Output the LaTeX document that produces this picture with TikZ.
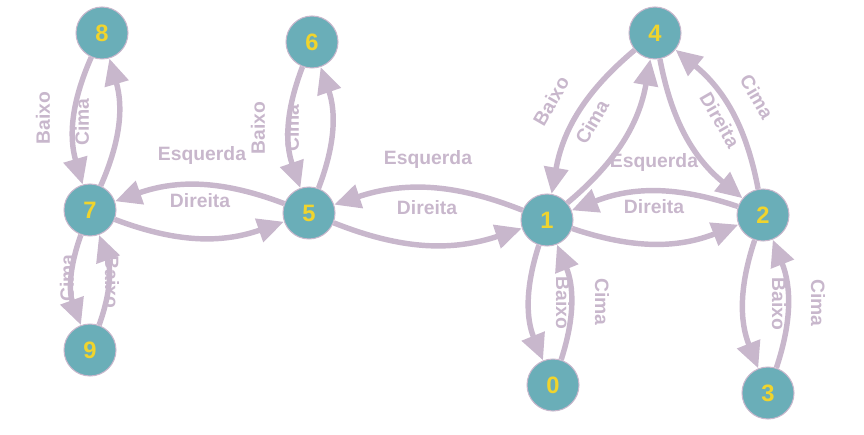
\documentclass[tikz,border=0pt]{standalone}
\usepackage{fontspec}
\setmainfont{Liberation Sans}
\usetikzlibrary{arrows.meta}
\definecolor{edgecol}{RGB}{200,183,204}
\definecolor{statecol}{RGB}{106,174,184}
\definecolor{numcol}{RGB}{240,212,45}
\begin{document}
\begin{tikzpicture}[x=0.02cm, y=-0.02cm,
    state/.style={circle, fill=statecol, draw=edgecol, line width=0.6pt, minimum size=1.04cm, inner sep=0pt, text=numcol, font=\fontsize{13.5}{14}\selectfont\bfseries},
    move/.style={edgecol, line width=3.1pt, -{Triangle[length=15pt, width=13.5pt]}, bend right=20},
    lbl/.style={text=edgecol, font=\fontsize{11}{12}\selectfont\bfseries, inner sep=0pt}]
    \useasboundingbox (0,0) rectangle (864,435);

    % States
    \node[state] (n8) at (102,33) {8};
    \node[state] (n7) at (90,210) {7};
    \node[state] (n9) at (90,350) {9};
    \node[state] (n6) at (312,42) {6};
    \node[state] (n5) at (309,213) {5};
    \node[state] (n1) at (547,220) {1};
    \node[state] (n4) at (655,33) {4};
    \node[state] (n2) at (763,215) {2};
    \node[state] (n0) at (553,385) {0};
    \node[state] (n3) at (768,393) {3};

    % Labels
    \node[lbl, rotate=90] (l87) at (43,118) {Baixo};
    \node[lbl, rotate=90] (l78) at (82,122) {Cima};
    \node[lbl, rotate=90] (l79) at (67,278) {Cima};
    \node[lbl, rotate=-90] (l97) at (112,282) {Baixo};
    \node[lbl, rotate=90] (l65) at (258,128) {Baixo};
    \node[lbl, rotate=90] (l56) at (292,128) {Cima};
    \node[lbl] (l57) at (202,156) {Esquerda};
    \node[lbl] (l75) at (200,201) {Direita};
    \node[lbl] (l15) at (428,160) {Esquerda};
    \node[lbl] (l51) at (427,208) {Direita};
    \node[lbl, rotate=-90] (l10) at (563,303) {Baixo};
    \node[lbl, rotate=-90] (l01) at (602,302) {Cima};
    \node[lbl, rotate=-90] (l23) at (779,304) {Baixo};
    \node[lbl, rotate=-90] (l32) at (818,303) {Cima};
    \node[lbl, rotate=60] (l41) at (551,101) {Baixo};
    \node[lbl, rotate=60] (l14) at (592,122) {Cima};
    \node[lbl, rotate=-60] (l42) at (720,120) {Direita};
    \node[lbl, rotate=-60] (l24) at (757,97) {Cima};
    \node[lbl] (l21) at (654,163) {Esquerda};
    \node[lbl] (l12) at (654,207) {Direita};

    % Moves
    \draw[move] (n8) to (n7);
    \draw[move] (n7) to (n8);
    \draw[move] (n7) to (n9);
    \draw[move] (n9) to (n7);
    \draw[move] (n6) to (n5);
    \draw[move] (n5) to (n6);
    \draw[move] (n5) to (n7);
    \draw[move] (n7) to (n5);
    \draw[move] (n1) to (n5);
    \draw[move] (n5) to (n1);
    \draw[move] (n1) to (n0);
    \draw[move] (n0) to (n1);
    \draw[move] (n4) to (n1);
    \draw[move] (n1) to (n4);
    \draw[move] (n4) to (n2);
    \draw[move] (n2) to (n4);
    \draw[move] (n2) to (n1);
    \draw[move] (n1) to (n2);
    \draw[move] (n2) to (n3);
    \draw[move] (n3) to (n2);
\end{tikzpicture}
\end{document}
